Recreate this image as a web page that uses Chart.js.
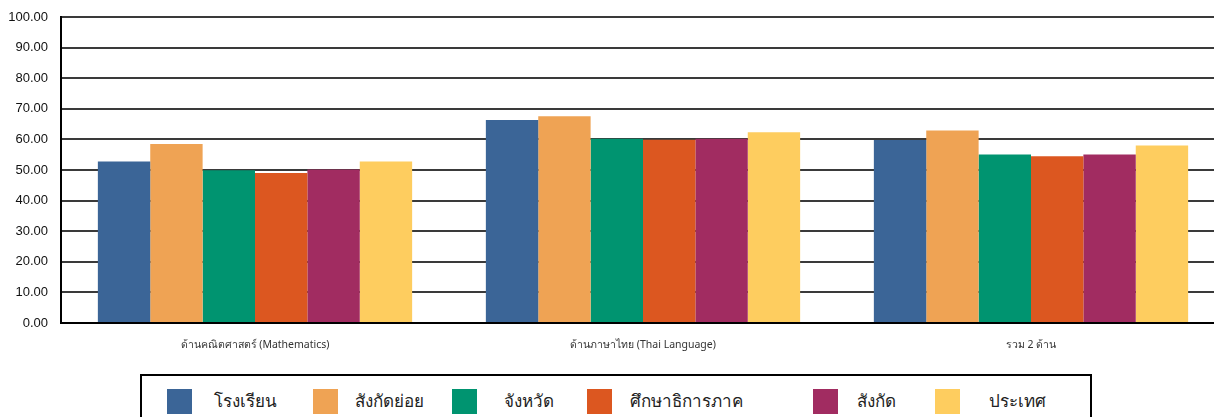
<!DOCTYPE html>
<html><head><meta charset="utf-8">
<script src="https://cdn.jsdelivr.net/npm/chart.js@4.4.1/dist/chart.umd.min.js"></script>
<style>
html,body{margin:0;padding:0;background:#fff;overflow:hidden;width:1214px;height:417px;}
#wrap{position:absolute;left:0;top:0;width:1230px;height:360px;}
#legend{position:absolute;left:140px;top:374px;width:952px;height:60px;border:2px solid #000;box-sizing:border-box;font-family:"Noto Sans","DejaVu Sans",sans-serif;font-size:17px;color:#222;}
.sw{position:absolute;top:13px;width:25px;height:25px;}
.lt{position:absolute;top:12px;line-height:26px;white-space:nowrap;}
</style></head>
<body>
<div id="wrap"><canvas id="c"></canvas></div>
<div id="legend"></div>
<script>
const categories = ["ด้านคณิตศาสตร์ (Mathematics)", "ด้านภาษาไทย (Thai Language)", "รวม 2 ด้าน"];
const seriesNames = ["โรงเรียน", "สังกัดย่อย", "จังหวัด", "ศึกษาธิการภาค", "สังกัด", "ประเทศ"];
const school    = [52.8, 66.3, 59.8];
const subArea   = [58.5, 67.6, 62.9];
const province  = [49.9, 60.2, 55.1];
const region    = [49.0, 59.9, 54.5];
const affil     = [50.2, 60.2, 55.1];
const country   = [52.8, 62.3, 58.0];
const yTicks    = [0, 10, 20, 30, 40, 50, 60, 70, 80, 90, 100];

const colors = ["#3B6597", "#EFA354", "#009470", "#DC5720", "#A12C61", "#FECD5F"];
const values = [school, subArea, province, region, affil, country];

const datasets = values.map((v, i) => ({
  label: seriesNames[i], data: v, backgroundColor: colors[i],
  borderWidth: 0, categoryPercentage: 0.81, barPercentage: 1.0
}));

const canvas = document.getElementById('c');
canvas.width = 1230; canvas.height = 360;
canvas.style.width = '1230px'; canvas.style.height = '360px';

new Chart(canvas, {
  type: 'bar',
  data: { labels: categories, datasets },
  options: {
    responsive: false, animation: false, devicePixelRatio: 1,
    layout: { padding: { top: 17, left: 0, right: 5, bottom: 0 } },
    plugins: { legend: { display: false }, tooltip: { enabled: false } },
    scales: {
      x: {
        grid: { display: false, drawTicks: false },
        border: { display: true, color: '#000', width: 2 },
        ticks: { padding: 16, color: '#333', font: { family: '"Noto Sans","DejaVu Sans",sans-serif', size: 10.5 } },
        afterFit: s => { s.height = 37; }
      },
      y: {
        min: 0, max: 100,
        afterBuildTicks: s => { s.ticks = yTicks.map(v => ({ value: v })); },
        grid: { color: '#3a3a3a', lineWidth: 2, drawTicks: false },
        border: { display: true, color: '#000', width: 2 },
        ticks: { padding: 13, color: '#111', font: { family: '"Liberation Sans",Arial,sans-serif', size: 13 },
                 callback: v => Number(v).toFixed(2) },
        afterFit: s => { s.width = 61; s.paddingTop = 0; }
      }
    }
  }
});

// HTML legend
const swX = [25, 171, 310, 445, 671, 793];
const txX = [72, 213, 362, 488, 715, 847];
const lg = document.getElementById('legend');
seriesNames.forEach((n, i) => {
  const s = document.createElement('div'); s.className = 'sw';
  s.style.left = swX[i] + 'px'; s.style.background = colors[i]; lg.appendChild(s);
  const t = document.createElement('div'); t.className = 'lt';
  t.style.left = txX[i] + 'px'; t.textContent = n; lg.appendChild(t);
});
</script>
</body></html>
